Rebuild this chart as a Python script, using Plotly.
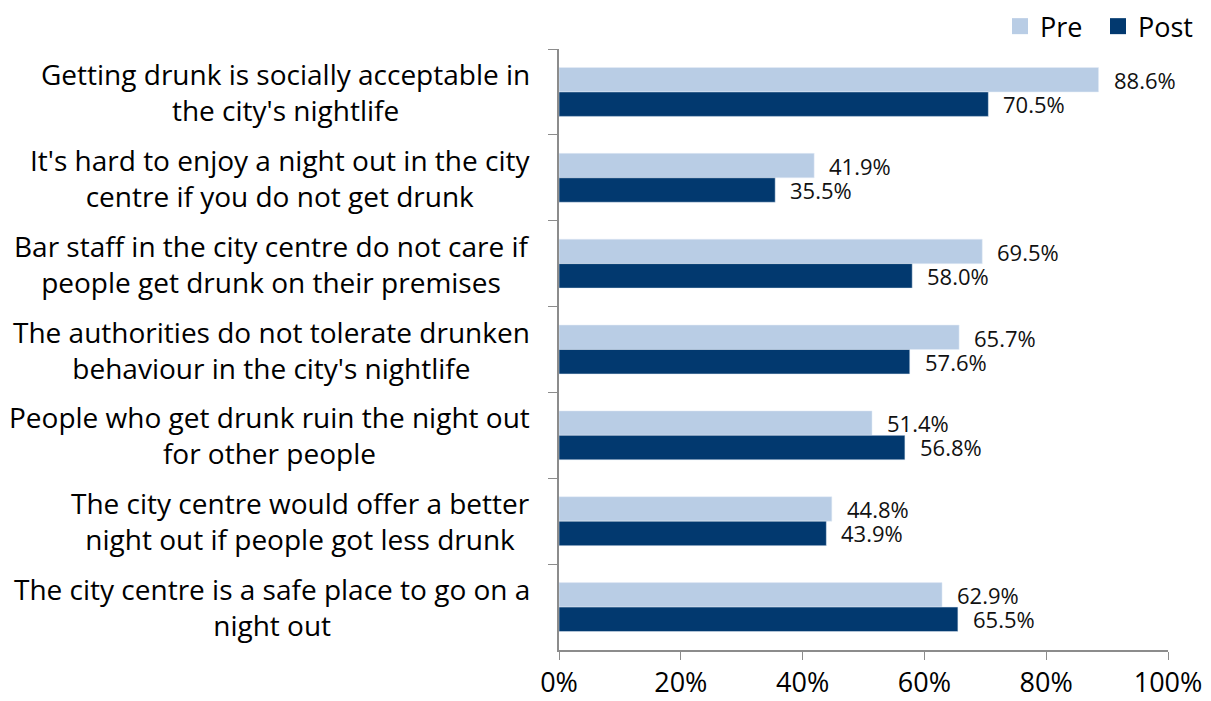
import plotly.graph_objects as go

statements = [
    "Getting drunk is socially acceptable in<br>the city's nightlife",
    "It's hard to enjoy a night out in the city<br>centre if you do not get drunk",
    "Bar staff in the city centre do not care if<br>people get drunk on their premises",
    "The authorities do not tolerate drunken<br>behaviour in the city's nightlife",
    "People who get drunk ruin the night out<br>for other people",
    "The city centre would offer a better<br>night out if people got less drunk",
    "The city centre is a safe place to go on a<br>night out",
]
pre_values = [88.6, 41.9, 69.5, 65.7, 51.4, 44.8, 62.9]
post_values = [70.5, 35.5, 58.0, 57.6, 56.8, 43.9, 65.5]
x_ticks = [0, 20, 40, 60, 80, 100]

FONT = "Open Sans, sans-serif"
PRE_COLOR = "#B9CDE5"
POST_COLOR = "#02396F"
AXIS_COLOR = "#8C8C8C"

fig = go.Figure()
fig.add_trace(go.Bar(name="Pre", y=statements, x=pre_values, orientation="h",
                     marker=dict(color=PRE_COLOR), hoverinfo="skip", showlegend=False))
fig.add_trace(go.Bar(name="Post", y=statements, x=post_values, orientation="h",
                     marker=dict(color=POST_COLOR), hoverinfo="skip", showlegend=False))

# legend entries drawn as large square swatches
for name, color in (("Pre", PRE_COLOR), ("Post", POST_COLOR)):
    fig.add_trace(go.Scatter(name=name, x=[None], y=[None], mode="markers",
                             marker=dict(symbol="square", size=18, color=color),
                             hoverinfo="skip"))

annotations = []
for cat, pv, qv in zip(statements, pre_values, post_values):
    # value labels to the right of each bar
    annotations.append(dict(x=pv, y=cat, xref="x", yref="y", text=f"{pv:.1f}%",
                            showarrow=False, xanchor="left", xshift=13, yshift=12,
                            font=dict(family=FONT, size=22, color="#111")))
    annotations.append(dict(x=qv, y=cat, xref="x", yref="y", text=f"{qv:.1f}%",
                            showarrow=False, xanchor="left", xshift=13, yshift=-12,
                            font=dict(family=FONT, size=22, color="#111")))
    # centred category labels left of the axis
    annotations.append(dict(x=0, y=cat, xref="paper", yref="y", text=cat,
                            showarrow=False, xanchor="right", align="center",
                            xshift=-27, font=dict(family=FONT, size=28, color="#000")))

fig.update_layout(
    width=1211, height=701,
    margin=dict(l=559, r=43, t=49, b=51, autoexpand=False),
    plot_bgcolor="white", paper_bgcolor="white",
    barmode="group", bargap=0.43, bargroupgap=0.0,
    font=dict(family=FONT, size=27, color="#000"),
    legend=dict(orientation="h", xref="container", yref="container",
                x=0.9876, xanchor="right", y=0.997, yanchor="top",
                font=dict(family=FONT, size=27), itemwidth=30,
                entrywidth=53, entrywidthmode="pixels",
                traceorder="normal", bgcolor="rgba(0,0,0,0)"),
    annotations=annotations,
    xaxis=dict(range=[0, 100], tickvals=x_ticks, ticktext=[f"{v}%" for v in x_ticks],
               showgrid=False, zeroline=False, showline=True, linecolor=AXIS_COLOR,
               linewidth=1.5, ticks="outside", ticklen=8, tickcolor=AXIS_COLOR,
               ticklabelstandoff=0, automargin=False,
               tickfont=dict(family=FONT, size=27), fixedrange=True),
    yaxis=dict(autorange="reversed", showticklabels=False, showgrid=False,
               showline=True, linecolor=AXIS_COLOR, linewidth=1.5, automargin=False,
               ticks="outside", tickson="boundaries", ticklen=9,
               tickcolor=AXIS_COLOR, fixedrange=True),
)

fig.write_html("out.html")
